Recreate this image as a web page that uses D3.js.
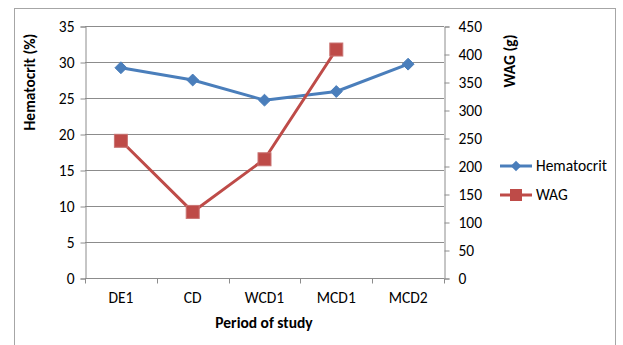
<!DOCTYPE html>
<html>
<head>
<meta charset="utf-8">
<script src="https://cdn.jsdelivr.net/npm/d3@7"></script>
<style>
  html, body { margin: 0; padding: 0; background: #fff; }
  svg { display: block; }
  text { font-family: Carlito, "Open Sans", "Noto Sans", sans-serif; fill: #000; }
</style>
</head>
<body>
<svg id="chart" width="623" height="345"></svg>
<script>
// Study periods and measured values
const periods = ["DE1", "CD", "WCD1", "MCD1", "MCD2"];
const hematocrit = [29.2, 27.5, 24.7, 25.9, 29.7];
const wag = [245, 118, 212, 408, null];
const leftTicks = [0, 5, 10, 15, 20, 25, 30, 35];
const rightTicks = [0, 50, 100, 150, 200, 250, 300, 350, 400, 450];

const svg = d3.select("#chart");
const plot = { left: 85, right: 444, top: 26, bottom: 278 };
const fs = 15.5;

// chart frame
svg.append("rect")
  .attr("x", 14.5).attr("y", 8.5)
  .attr("width", 601).attr("height", 345)
  .attr("fill", "#fff").attr("stroke", "#a6a6a6").attr("stroke-width", 1);

const x = d3.scaleBand().domain(periods).range([plot.left, plot.right]).padding(0);
const yL = d3.scaleLinear().domain([0, 35]).range([plot.bottom, plot.top]);
const yR = d3.scaleLinear().domain([0, 450]).range([plot.bottom, plot.top]);

// horizontal gridlines
svg.append("g").selectAll("line").data(leftTicks.slice(1)).join("line")
  .attr("x1", plot.left).attr("x2", plot.right)
  .attr("y1", d => Math.round(yL(d)) + 0.5).attr("y2", d => Math.round(yL(d)) + 0.5)
  .attr("stroke", "#8c8c8c").attr("stroke-width", 1);

// left axis
const gL = svg.append("g").attr("transform", `translate(${plot.left + 0.5},0.5)`)
  .call(d3.axisLeft(yL).tickValues(leftTicks).tickSize(5).tickPadding(6));
// right axis
const gR = svg.append("g").attr("transform", `translate(${plot.right + 0.5},0.5)`)
  .call(d3.axisRight(yR).tickValues(rightTicks).tickSize(5).tickPadding(9));
// bottom axis with ticks at band boundaries
const gB = svg.append("g").attr("transform", `translate(0,${plot.bottom + 0.5})`)
  .call(d3.axisBottom(x).tickSize(0).tickPadding(13));
gB.selectAll(".bound").data(d3.range(periods.length + 1)).join("line")
  .attr("class", "bound")
  .attr("x1", i => Math.round(plot.left + i * x.bandwidth()) + 0.5)
  .attr("x2", i => Math.round(plot.left + i * x.bandwidth()) + 0.5)
  .attr("y1", 0).attr("y2", 5)
  .attr("stroke", "#8c8c8c");

[gL, gR, gB].forEach(g => {
  g.select(".domain").attr("stroke", "#8c8c8c");
  g.selectAll(".tick line").attr("stroke", "#8c8c8c");
  g.selectAll(".tick text").attr("font-size", fs).attr("fill", "#000")
    .style("font-family", 'Carlito, "Open Sans", "Noto Sans", sans-serif');
});
gB.select(".domain").attr("d", `M${plot.left},0H${plot.right}`);

// axis titles
svg.append("text").attr("transform", "translate(35,82) rotate(-90)")
  .attr("text-anchor", "middle").attr("font-size", fs).attr("font-weight", "bold")
  .text("Hematocrit (%)");
svg.append("text").attr("transform", "translate(515,61) rotate(-90)")
  .attr("text-anchor", "middle").attr("font-size", fs).attr("font-weight", "bold")
  .text("WAG (g)");
svg.append("text").attr("x", 264).attr("y", 328)
  .attr("text-anchor", "middle").attr("font-size", fs).attr("font-weight", "bold")
  .text("Period of study");

const cx = d => x(d) + x.bandwidth() / 2;
const blue = "#4a7ebb", red = "#be4b48";

// Hematocrit series
const hData = periods.map((p, i) => ({ p, v: hematocrit[i] }));
svg.append("path").datum(hData)
  .attr("d", d3.line().x(d => cx(d.p)).y(d => yL(d.v)))
  .attr("fill", "none").attr("stroke", blue).attr("stroke-width", 3).attr("stroke-linejoin", "round");
svg.append("g").selectAll("path").data(hData).join("path")
  .attr("d", d3.symbol(d3.symbolDiamond2, 90))
  .attr("transform", d => `translate(${cx(d.p)},${yL(d.v)})`)
  .attr("fill", blue).attr("stroke", blue).attr("stroke-width", 1);

// WAG series
const wData = periods.map((p, i) => ({ p, v: wag[i] })).filter(d => d.v != null);
svg.append("path").datum(wData)
  .attr("d", d3.line().x(d => cx(d.p)).y(d => yR(d.v)))
  .attr("fill", "none").attr("stroke", red).attr("stroke-width", 3).attr("stroke-linejoin", "round");
svg.append("g").selectAll("rect").data(wData).join("rect")
  .attr("x", d => cx(d.p) - 6.5).attr("y", d => yR(d.v) - 6.5)
  .attr("width", 13).attr("height", 13)
  .attr("fill", red).attr("stroke", "#c97372").attr("stroke-width", 1);

// legend
const legend = svg.append("g");
const items = [
  { name: "Hematocrit", color: blue, y: 166, shape: "diamond" },
  { name: "WAG", color: red, y: 195, shape: "square" }
];
items.forEach(it => {
  legend.append("line").attr("x1", 500).attr("x2", 532).attr("y1", it.y).attr("y2", it.y)
    .attr("stroke", it.color).attr("stroke-width", 3);
  if (it.shape === "diamond") {
    legend.append("path").attr("d", d3.symbol(d3.symbolDiamond2, 70))
      .attr("transform", `translate(516,${it.y})`).attr("fill", it.color);
  } else {
    legend.append("rect").attr("x", 510).attr("y", it.y - 6).attr("width", 12).attr("height", 12)
      .attr("fill", it.color);
  }
  legend.append("text").attr("x", 536).attr("y", it.y + 5).attr("font-size", fs).text(it.name);
});
</script>
</body>
</html>
